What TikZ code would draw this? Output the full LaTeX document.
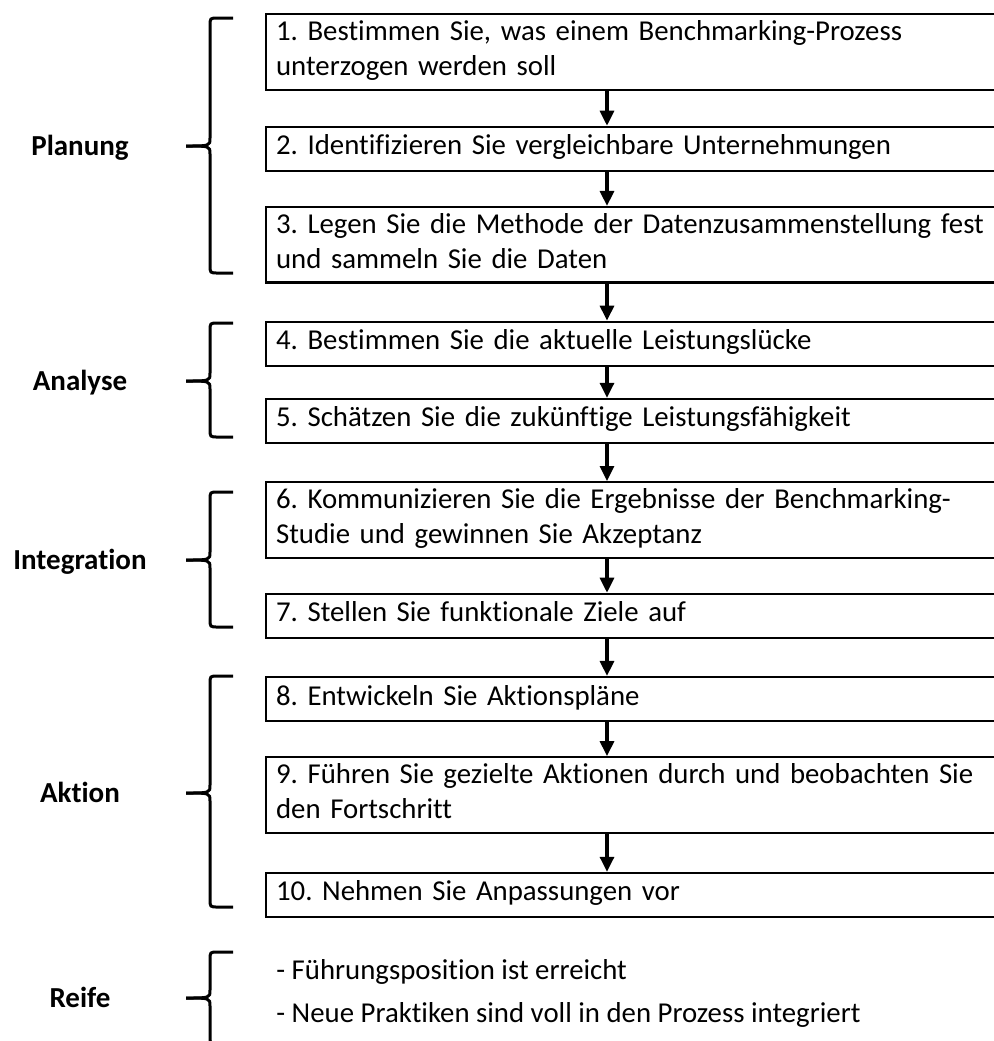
\documentclass[tikz,border=0pt]{standalone}
\usepackage{fontspec}
\setmainfont{Carlito}[Ligatures={NoCommon}]
\usetikzlibrary{
        arrows.meta,
        positioning
    }
\tikzset{>={Triangle[width=7pt,length=7.5pt]},node distance=17.5pt}
\tikzset{
  stepbox/.style={draw,line width=1.1pt,text width=420pt,align=left,
    inner xsep=5pt,inner ysep=1.75pt,minimum height=22pt,
    font=\fontsize{14.4}{17.25}\selectfont,
    execute at begin node=\frenchspacing\rule{0pt}{11.5pt},
    execute at end node=\rule[-5.5pt]{0pt}{0pt}},
  phase/.style={font=\bfseries\fontsize{14.5}{17}\selectfont,anchor=base},
  listitem/.style={font=\fontsize{14.4}{17.25}\selectfont,anchor=base west,inner sep=0pt},
  flow/.style={->,line width=1.6pt},
  curly/.style={line width=1.5pt}
}

\begin{document}
\begin{tikzpicture}[x=0.5pt,y=-0.5pt]
\useasboundingbox (0,0) rectangle (993,1041);
% the ten steps
\node[stepbox,anchor=north west] (s1) at (265,13) {1. Bestimmen Sie, was einem Benchmarking-Prozess\\unterzogen werden soll};
\node[stepbox] (s2) [below=of s1] {2. Identifizieren Sie vergleichbare Unternehmungen};
\node[stepbox] (s3) [below=17pt of s2] {3. Legen Sie die Methode der Datenzusammenstellung fest\\und sammeln Sie die Daten};
\node[stepbox] (s4) [below=18.5pt of s3] {4. Bestimmen Sie die aktuelle Leistungslücke};
\node[stepbox] (s5) [below=15.5pt of s4] {5. Schätzen Sie die zukünftige Leistungsfähigkeit};
\node[stepbox] (s6) [below=18.5pt of s5] {6. Kommunizieren Sie die Ergebnisse der Benchmarking-\\Studie und gewinnen Sie Akzeptanz};
\node[stepbox] (s7) [below=17pt of s6] {7. Stellen Sie funktionale Ziele auf};
\node[stepbox] (s8) [below=18.5pt of s7] {8. Entwickeln Sie Aktionspläne};
\node[stepbox] (s9) [below=17pt of s8] {9. Führen Sie gezielte Aktionen durch und beobachten Sie\\den Fortschritt};
\node[stepbox] (s10) [below=19pt of s9] {10. Nehmen Sie Anpassungen vor};
\foreach \a/\b in {s1/s2,s2/s3,s3/s4,s4/s5,s5/s6,s6/s7,s7/s8,s8/s9,s9/s10}
  \draw[flow] ([xshift=171pt]\a.south west) -- ([xshift=171pt]\b.north west);
% maturity
\node[listitem] (r1) at (276,979) {\frenchspacing - Führungsposition ist erreicht};
\node[listitem] (r2) at (276,1022) {\frenchspacing - Neue Praktiken sind voll in den Prozess integriert};
% braces and phases
\foreach \ya/\ym/\yb/\nm/\txt in {18/146/273/planung/Planung,323/381/437/analyse/Analyse,
    492/560/627/integration/Integration,676/793/907/aktion/Aktion,952/998/1044/reife/Reife}{
  \draw[curly] (233,\ya) -- (218,\ya) .. controls (210,\ya) .. (210,\ya+8)
    -- (210,\ym-8) .. controls (210,\ym) .. (186,\ym);
  \draw[curly] (186,\ym) .. controls (210,\ym) .. (210,\ym+8)
    -- (210,\yb-8) .. controls (210,\yb) .. (218,\yb) -- (233,\yb);
  \node[phase] (\nm) at (80,\ym+9.5) {\txt};
}
\end{tikzpicture}
\end{document}
